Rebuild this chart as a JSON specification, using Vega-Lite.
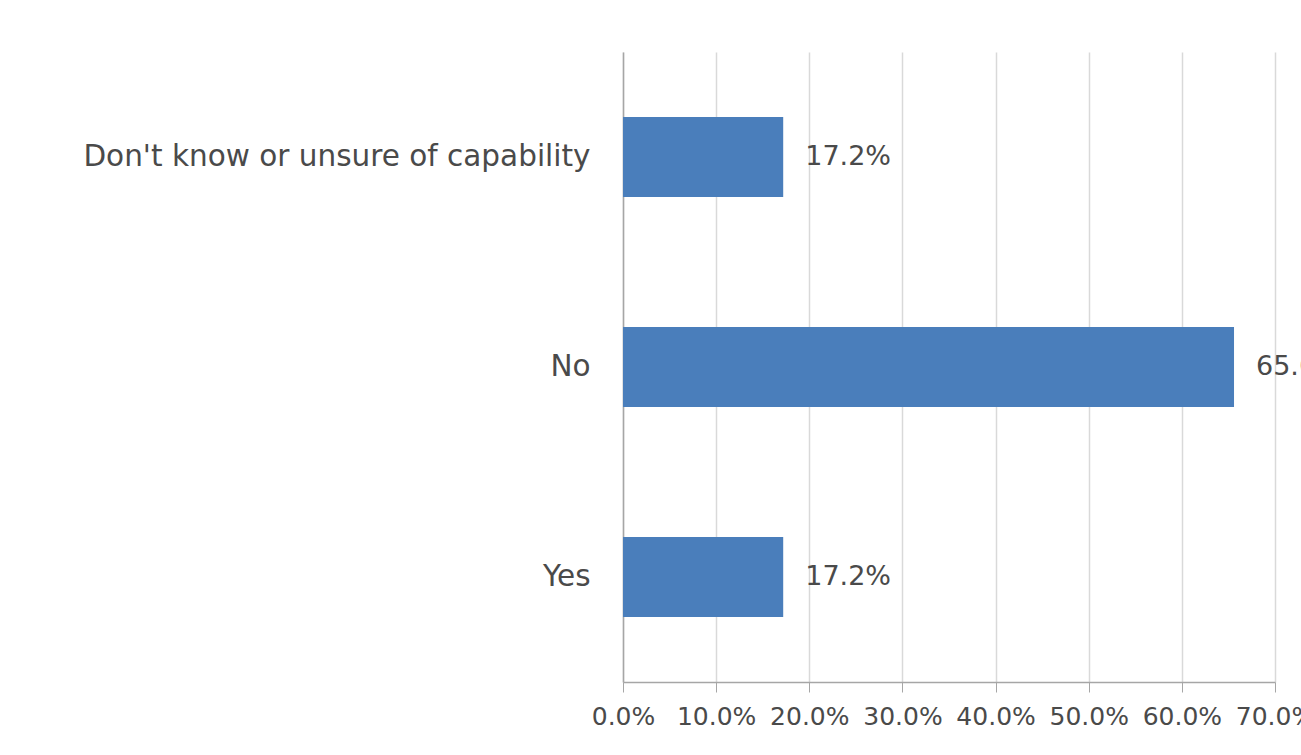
{
  "$schema": "https://vega.github.io/schema/vega-lite/v6.json",
  "autosize": {"type": "none"},
  "width": 652,
  "height": 630,
  "padding": {"left": 623, "top": 52, "right": 26, "bottom": 73},
  "background": "#ffffff",
  "data": {"values": [
    {"answer": "Don't know or unsure of capability", "pct": 17.2, "label": "17.2%"},
    {"answer": "No", "pct": 65.6, "label": "65.6%"},
    {"answer": "Yes", "pct": 17.2, "label": "17.2%"}
  ]},
  "encoding": {
    "y": {"field": "answer", "type": "nominal", "sort": null,
      "scale": {"paddingInner": 0.62, "paddingOuter": 0.31},
      "axis": {"title": null, "ticks": false, "labelPadding": 33, "labelFontSize": 29.5, "labelFont": "DejaVu Sans", "labelColor": "#4a4a4a", "domainColor": "#a6a6a6", "domainWidth": 1.5, "labelLimit": 620}},
    "x": {"field": "pct", "type": "quantitative",
      "scale": {"domain": [0, 70], "nice": false},
      "axis": {"title": null, "values": [0, 10, 20, 30, 40, 50, 60, 70], "labelExpr": "format(datum.value, '.1f') + '%'", "labelFontSize": 25, "labelFont": "DejaVu Sans", "labelColor": "#4a4a4a", "domainColor": "#a6a6a6", "domainWidth": 1.5, "tickColor": "#a6a6a6", "tickSize": 10, "labelPadding": 12, "gridColor": "#d9d9d9", "gridWidth": 1.5, "labelOverlap": false, "labelBound": false, "labelFlush": false}}
  },
  "layer": [
    {"mark": {"type": "bar", "color": "#4a7ebb"}},
    {"mark": {"type": "text", "align": "left", "dx": 22, "fontSize": 27, "font": "DejaVu Sans", "color": "#4a4a4a"},
      "encoding": {"text": {"field": "label", "type": "nominal"}}}
  ],
  "config": {"view": {"stroke": null}}
}
